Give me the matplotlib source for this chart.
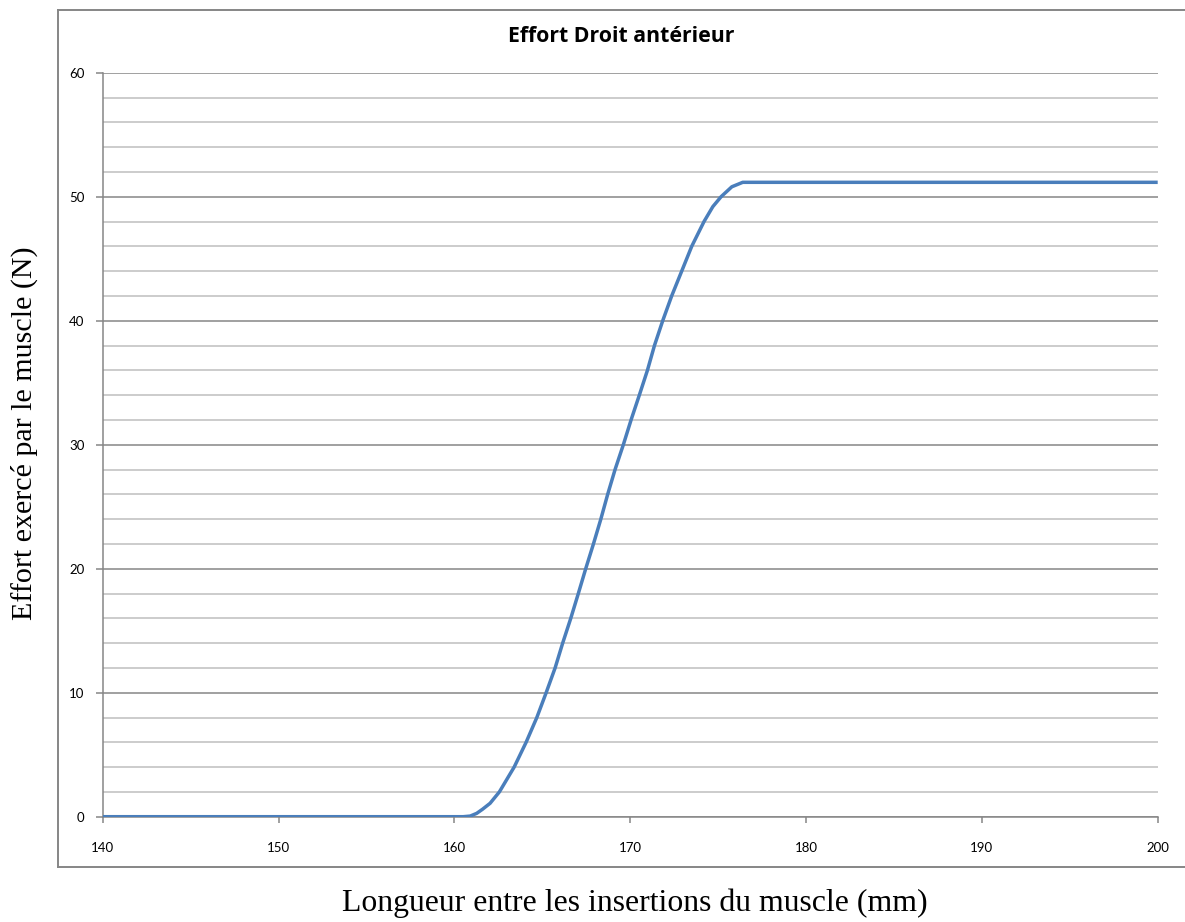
import matplotlib.pyplot as plt
from matplotlib.lines import Line2D
from matplotlib.ticker import MultipleLocator

# Courbe (longueur en mm, effort en N)
longueur = [140, 160.5, 160.9, 161.27, 161.6, 162.03, 162.56, 163.4, 164.08,
            164.69, 165.22, 165.73, 166.16, 166.62, 167.05, 167.47, 167.91,
            168.33, 168.72, 169.14, 169.61, 170.05, 170.52, 170.98, 171.38,
            171.85, 172.36, 172.93, 173.5, 174.2, 174.7, 175.17, 175.78,
            176.4, 200]
effort = [0, 0, 0.05, 0.27, 0.6, 1.08, 2, 4, 6, 8, 10, 12, 14, 16, 18, 20,
          22, 24, 26, 28, 30, 32, 34, 36, 38, 40, 42, 44, 46, 48, 49.2, 50,
          50.8, 51.16, 51.16]

x_ticks = [140, 150, 160, 170, 180, 190, 200]
y_ticks = [0, 10, 20, 30, 40, 50, 60]

W, H = 1185, 922
fig = plt.figure(figsize=(W / 100, H / 100), dpi=100)
ax = fig.add_axes([102.7 / W, 1 - 816.7 / H, 1055 / W, 744 / H])

major_col = "#868686"
minor_col = "#bfbfbf"

ax.plot(longueur, effort, color="#4a7ebb", lw=2.5, solid_capstyle="butt", zorder=5)

ax.set_xlim(140, 200)
ax.set_ylim(0, 60)
ax.set_xticks(x_ticks)
ax.set_yticks(y_ticks)
ax.yaxis.set_minor_locator(MultipleLocator(2))

ax.grid(axis="y", which="major", color=major_col, lw=1.1)
ax.grid(axis="y", which="minor", color=minor_col, lw=1.1)

for s in ["top", "right"]:
    ax.spines[s].set_visible(False)
for s in ["left", "bottom"]:
    ax.spines[s].set_color(major_col)
    ax.spines[s].set_linewidth(1.1)

ax.tick_params(axis="y", which="major", direction="out", length=5, width=1.1,
               color=major_col, pad=8)
ax.tick_params(axis="y", which="minor", length=0)
ax.tick_params(axis="x", direction="out", length=4, width=1.1,
               color=major_col, pad=14)
for lab in ax.get_xticklabels() + ax.get_yticklabels():
    lab.set_fontfamily("Lato")
    lab.set_fontsize(9.5)
    lab.set_color("black")

# Titre et libellés des axes
fig.text(621.5 / W, 1 - 37 / H, "Effort Droit antérieur", ha="center", va="center",
         fontfamily="Open Sans", fontweight="bold", fontsize=15.3)
fig.text(24 / W, 1 - 433.5 / H, "Effort exercé par le muscle (N)", rotation=90,
         ha="center", va="center", fontfamily="Liberation Serif", fontsize=21.6)
fig.text(634.5 / W, 1 - 903 / H, "Longueur entre les insertions du muscle (mm)",
         ha="center", va="center", fontfamily="Liberation Serif", fontsize=22.9)

# Cadre extérieur du graphique
x0, y0, y1 = 57.5 / W, 1 - 867 / H, 1 - 10 / H
for xs, ys in [([x0, 1.0], [y1, y1]), ([x0, 1.0], [y0, y0]), ([x0, x0], [y0, y1])]:
    fig.add_artist(Line2D(xs, ys, transform=fig.transFigure, color=major_col, lw=1.4))

fig.savefig("out.png", dpi=100)
